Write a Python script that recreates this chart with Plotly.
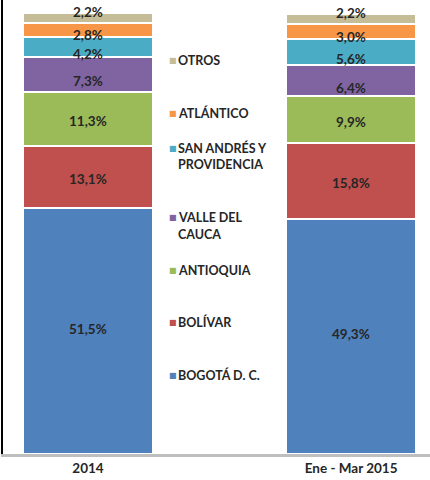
import plotly.graph_objects as go

categories = ["2014", "Ene - Mar 2015"]
series_names = ["BOGOTÁ D. C.", "BOLÍVAR", "ANTIOQUIA", "VALLE DEL<br>CAUCA",
                "SAN ANDRÉS Y<br>PROVIDENCIA", "ATLÁNTICO", "OTROS"]
values_2014 = [51.5, 13.1, 11.3, 7.3, 4.2, 2.8, 2.2]
values_2015 = [49.3, 15.8, 9.9, 6.4, 5.6, 3.0, 2.2]
colors = ["#4F81BD", "#C0504D", "#9BBB59", "#8064A2", "#4BACC6", "#F79646", "#C4BD97"]
# vertical nudge (px) of each series' value label, to keep small labels apart
label_nudge = [2, -2, -2, -7, -7, -5, 6]

W, H = 430, 480
ML, MR, MT, MB = 3, 0, 0, 26
PW, PH = W - ML - MR, H - MT - MB

def px_x(x):
    return (x - ML) / PW

def px_y(y):
    return (H - MB - y) / PH

FONT = "Lato"
TXT = "#262626"

fig = go.Figure()
annotations = []
series_values = [values_2014, values_2015]
for i, name in enumerate(series_names):
    vals = [values_2014[i], values_2015[i]]
    fig.add_trace(go.Bar(
        x=categories, y=vals, name=name,
        marker=dict(color=colors[i], line=dict(color="white", width=2)),
        showlegend=False, hoverinfo="skip",
    ))

# value labels placed at each segment's middle (data coordinates)
for c, cat in enumerate(categories):
    vals = series_values[c]
    base = 0.0
    for i, v in enumerate(vals):
        annotations.append(dict(
            x=c, y=base + v / 2, xref="x", yref="y",
            text=f"{v:.1f}".replace(".", ",") + "%", showarrow=False,
            yshift=label_nudge[i],
            font=dict(family=FONT, size=13.5, color=TXT, weight="bold"),
        ))
        base += v

# legend drawn as text annotations
legend_y = [375, 322, 270, 218, 148, 113, 60]
for i, name in enumerate(series_names):
    y0 = legend_y[i]
    annotations.append(dict(
        x=px_x(167), y=px_y(y0), xref="paper", yref="paper",
        text="■", showarrow=False, xanchor="left", yanchor="middle",
        font=dict(family="DejaVu Sans", size=8, color=colors[i]),
    ))
    lines = name.split("<br>")
    for j, ln in enumerate(lines):
        annotations.append(dict(
            x=px_x(176), y=px_y(y0 + j * 16), xref="paper", yref="paper",
            text=ln, showarrow=False, xanchor="left", yanchor="middle",
            font=dict(family=FONT, size=12.5, color=TXT, weight="bold"),
        ))

fig.update_layout(
    width=W, height=H,
    margin=dict(l=ML, r=MR, t=MT, b=MB),
    barmode="stack", bargap=0.506,
    plot_bgcolor="white", paper_bgcolor="white",
    annotations=annotations,
    xaxis=dict(type="category", range=[-0.323, 1.300], showgrid=False, showline=True,
               linecolor="#BFBFBF", linewidth=3, ticks="",
               tickfont=dict(family=FONT, size=13.5, color=TXT, weight="bold")),
    yaxis=dict(range=[0, 95.1], showgrid=False, showline=True, linecolor="#000000",
               linewidth=2, showticklabels=False, ticks="", zeroline=False),
)

fig.write_html("out.html", config={"displayModeBar": False},
               post_script="document.body.style.margin='0';document.body.style.padding='0';")
